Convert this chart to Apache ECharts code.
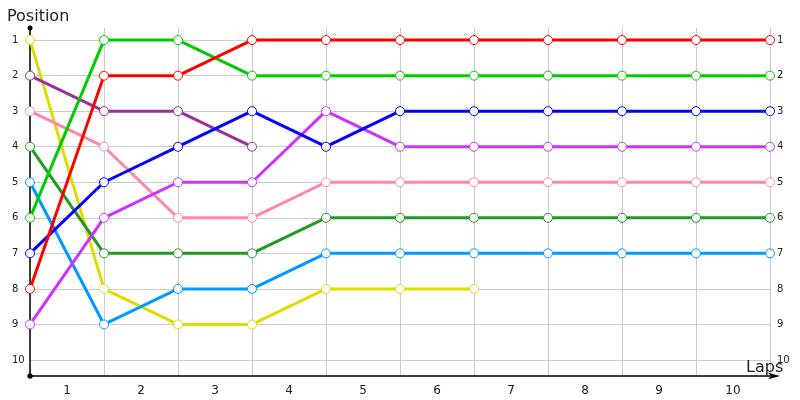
<!DOCTYPE html>
<html>
<head>
<meta charset="utf-8">
<script src="https://cdn.jsdelivr.net/npm/echarts@6/dist/echarts.min.js"></script>
<style>html,body{margin:0;padding:0;background:#fff}#c{width:800px;height:400px}</style>
</head>
<body>
<div id="c"></div>
<script>
const lapLabels = ['1','2','3','4','5','6','7','8','9','10'];
const positionLabels = [1,2,3,4,5,6,7,8,9,10];
// positions from start (lap 0) through lap 10
const red        = [8, 2, 2, 1, 1, 1, 1, 1, 1, 1, 1];
const lightGreen = [6, 1, 1, 2, 2, 2, 2, 2, 2, 2, 2];
const blue       = [7, 5, 4, 3, 4, 3, 3, 3, 3, 3, 3];
const purple     = [2, 3, 3, 4];
const violet     = [9, 6, 5, 5, 3, 4, 4, 4, 4, 4, 4];
const pink       = [3, 4, 6, 6, 5, 5, 5, 5, 5, 5, 5];
const darkGreen  = [4, 7, 7, 7, 6, 6, 6, 6, 6, 6, 6];
const lightBlue  = [5, 9, 8, 8, 7, 7, 7, 7, 7, 7, 7];
const yellow     = [1, 8, 9, 9, 8, 8, 8];

const drivers = [
  {data: yellow, color: '#dddd00'},
  {data: lightBlue, color: '#0099ff'},
  {data: darkGreen, color: '#229922'},
  {data: pink, color: '#ff88aa'},
  {data: violet, color: '#cc33ff'},
  {data: purple, color: '#993399'},
  {data: blue, color: '#0000ff'},
  {data: lightGreen, color: '#00cc00'},
  {data: red, color: '#ff0000'}
];

const font = 'DejaVu Sans';
const chart = echarts.init(document.getElementById('c'));
chart.setOption({
  animation: false,
  textStyle: {fontFamily: font},
  title: [
    {text: 'Position', left: 2, top: 4, textStyle: {fontSize: 16, fontWeight: 'normal', color: '#222', fontFamily: font}},
    {text: 'Laps', left: 741, top: 355, textStyle: {fontSize: 16, fontWeight: 'normal', color: '#222', fontFamily: font}}
  ],
  grid: {left: 30, right: 30, top: 28, bottom: 24, containLabel: false},
  xAxis: [
    {
      type: 'value', min: 0, max: 10, interval: 1,
      axisLine: {show: true, lineStyle: {color: '#000', width: 1.5}, symbol: ['circle', 'arrow'], symbolSize: [5, 12], symbolOffset: [0, 10]},
      axisTick: {show: false},
      axisLabel: {show: false},
      splitLine: {show: true, lineStyle: {color: '#cccccc', width: 1}}
    },
    {
      type: 'category', data: lapLabels, boundaryGap: true, position: 'bottom', offset: 0,
      axisLine: {show: false}, axisTick: {show: false}, splitLine: {show: false},
      axisLabel: {color: '#222', fontSize: 12, margin: 9, fontFamily: font}
    }
  ],
  yAxis: [
    {
      type: 'value', inverse: true, min: 0.66, max: 10.45,
      axisLine: {show: true, lineStyle: {color: '#000', width: 1.5}, symbol: ['circle', 'circle'], symbolSize: [5, 5]},
      axisTick: {show: false, customValues: positionLabels},
      axisLabel: {customValues: positionLabels, color: '#222', fontSize: 10, margin: 18, align: 'left', fontFamily: font},
      splitLine: {show: true, lineStyle: {color: '#cccccc', width: 1}}
    },
    {
      type: 'value', inverse: true, min: 0.66, max: 10.45, position: 'right',
      axisLine: {show: false},
      axisTick: {show: false, customValues: positionLabels},
      axisLabel: {customValues: positionLabels, color: '#222', fontSize: 10, margin: 7, fontFamily: font},
      splitLine: {show: false}
    }
  ],
  series: drivers.map(d => ({
    type: 'line',
    xAxisIndex: 0, yAxisIndex: 0,
    data: d.data.map((p, i) => [i, p]),
    symbol: 'circle', symbolSize: 9,
    showAllSymbol: true,
    lineStyle: {color: d.color, width: 3},
    itemStyle: {color: '#fff', borderColor: d.color, borderWidth: 1},
    emphasis: {disabled: true}
  }))
});
</script>
</body>
</html>
